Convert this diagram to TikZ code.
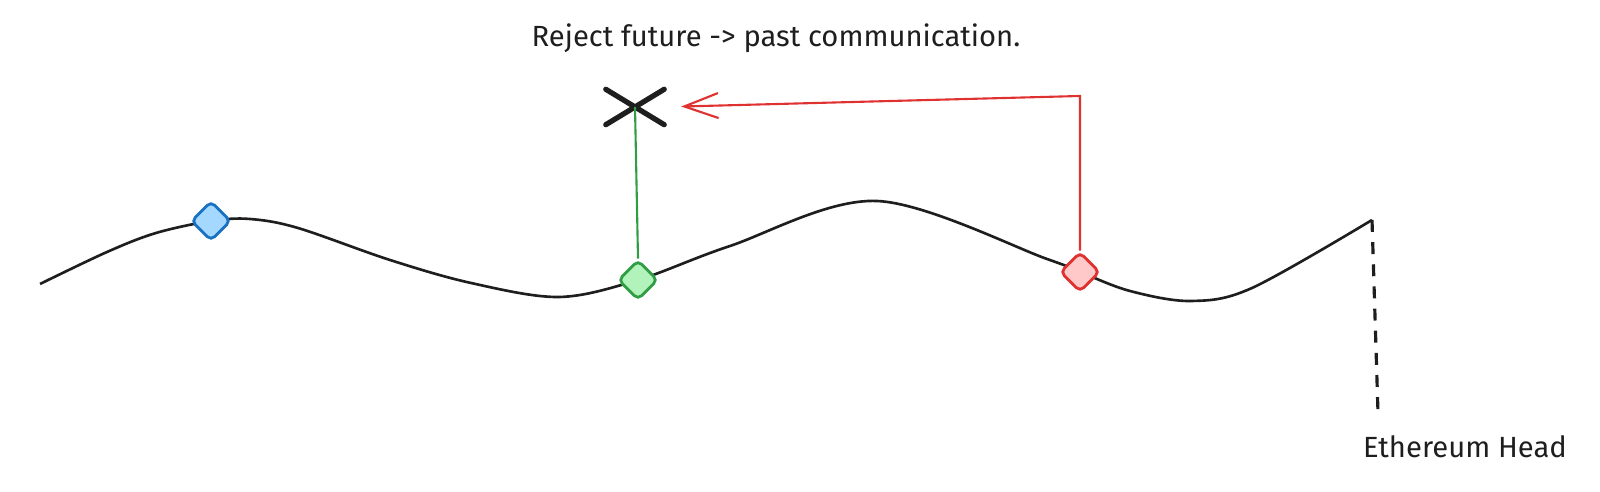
\documentclass[tikz,border=0pt]{standalone}
\usepackage{fontspec}
\setsansfont{Fira Sans}
\usetikzlibrary{arrows.meta,shapes.geometric}
\definecolor{inkcolor}{HTML}{1E1E1E}
\definecolor{bluefill}{HTML}{A5D8FF}
\definecolor{bluedraw}{HTML}{1971C2}
\definecolor{greenfill}{HTML}{B2F2BB}
\definecolor{greendraw}{HTML}{2F9E44}
\definecolor{redfill}{HTML}{FFC9C9}
\definecolor{reddraw}{HTML}{E03131}

\tikzset{
  block/.style={diamond, aspect=1, inner sep=0pt, minimum width=0.4cm, minimum height=0.4cm, rounded corners=1.5pt, line width=0.8pt},
  chain/.style={draw=inkcolor, line width=0.75pt},
  link/.style={line width=0.6pt},
  label/.style={text=inkcolor, font=\sffamily\fontsize{8.3}{10}\selectfont},
}

\begin{document}
\begin{tikzpicture}[x=0.01cm, y=-0.01cm, font=\sffamily]
  \useasboundingbox (0,0) rectangle (1600,492);

  % the chain
  \draw[chain] plot[smooth, tension=0.55] coordinates {(40,284) (107,252) (156,233) (211,221) (250,219) (298,228) (390,260) (471,283) (559,297) (638,280) (730,246) (877,201) (1047,259) (1080,272) (1130,291) (1191,301) (1252,288) (1372,220)};

  \node[block, draw=bluedraw, fill=bluefill] (blueblock) at (211,221) {}; % old block
  \node[block, draw=greendraw, fill=greenfill] (greenblock) at (638,280) {}; % past block
  \node[block, draw=reddraw, fill=redfill] (redblock) at (1080,272) {}; % future block

  % rejected message
  \node[minimum width=0.57cm, minimum height=0.34cm, inner sep=0pt] (cross) at (635,107) {};
  \draw[inkcolor, line width=1.5pt, line cap=round] (cross.north west) -- (cross.south east);
  \draw[inkcolor, line width=1.5pt, line cap=round] (cross.south west) -- (cross.north east);
  \draw[link, draw=greendraw] (cross.center) -- (greenblock.north);

  \coordinate (corner) at (1080,96);
  \draw[link, draw=reddraw, -{Straight Barb[length=0.34cm, width=0.25cm]}, shorten >=0.17cm] (redblock.north) -- (corner) -- (cross.east);

  \node[label] (title) at (776,38) {Reject future -> past communication.};

  % head of the chain
  \coordinate (head) at (1372,220);
  \coordinate (headend) at (1378,413);
  \draw[chain, line width=0.9pt, dash pattern=on 3.4pt off 2.9pt] (head) -- (headend);
  \node[label] (headlabel) at (1465,447) {Ethereum Head};
\end{tikzpicture}
\end{document}
